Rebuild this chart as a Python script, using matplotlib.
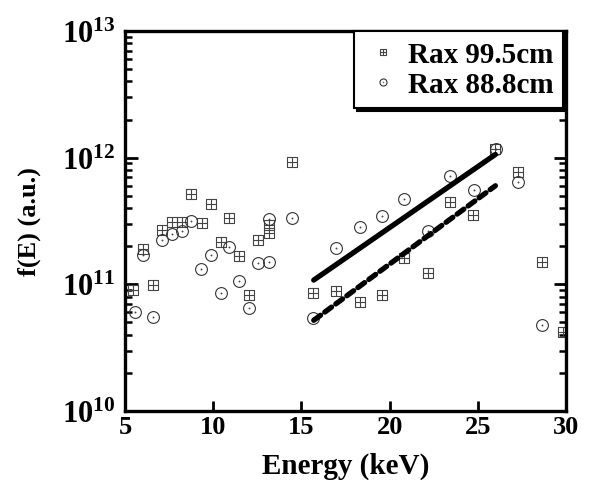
import numpy as np
import matplotlib
matplotlib.use("Agg")
import matplotlib.pyplot as plt
from matplotlib.path import Path
from matplotlib.ticker import FixedLocator, FixedFormatter, LogLocator, NullFormatter

plt.rcParams['font.family'] = ['Liberation Serif', 'DejaVu Serif']
plt.rcParams['font.weight'] = 'bold'
plt.rcParams['mathtext.fontset'] = 'custom'
plt.rcParams['mathtext.rm'] = 'Liberation Serif:bold'
plt.rcParams['mathtext.bf'] = 'Liberation Serif:bold'
plt.rcParams['mathtext.it'] = 'Liberation Serif:bold'

# Rax 99.5cm (squares with cross)
e_995 = [5.45, 6.59, 6.02, 7.10, 7.66, 8.23, 8.74, 9.37, 9.88, 10.44, 10.90, 11.46,
         12.03, 12.54, 13.16, 13.16, 14.47, 15.66, 16.96, 18.32, 19.57, 20.82, 22.18,
         23.42, 24.73, 25.98, 27.28, 28.64, 29.83]
f_995 = [8.96e10, 9.8e10, 1.90e11, 2.68e11, 3.11e11, 3.11e11, 5.18e11, 3.05e11, 4.31e11,
         2.15e11, 3.34e11, 1.67e11, 8.2e10, 2.23e11, 2.94e11, 2.54e11, 9.3e11, 8.5e10,
         8.8e10, 7.3e10, 8.2e10, 1.61e11, 1.22e11, 4.48e11, 3.53e11, 1.18e12, 7.74e11,
         1.50e11, 4.24e10]

# Rax 88.8cm (circles)
e_888 = [5.57, 6.59, 6.02, 7.10, 7.66, 8.23, 8.74, 9.31, 9.88, 10.44, 10.90, 11.46,
         12.03, 12.54, 13.16, 13.16, 14.47, 15.66, 16.96, 18.32, 19.57, 20.82, 22.18,
         23.42, 24.78, 26.03, 27.28, 28.64]
f_888 = [6.0e10, 5.57e10, 1.70e11, 2.23e11, 2.50e11, 2.64e11, 3.16e11, 1.32e11, 1.70e11,
         8.6e10, 1.97e11, 1.06e11, 6.45e10, 1.47e11, 1.50e11, 3.28e11, 3.34e11, 5.47e10,
         1.93e11, 2.83e11, 3.47e11, 4.73e11, 2.64e11, 7.19e11, 5.57e11, 1.16e12, 6.45e11,
         4.73e10]

# exponential fits
fit_e = [15.7, 26.0]
fit_888 = [1.08e11, 1.06e12]
fit_995 = [5.2e10, 6.0e11]

xticks = [5, 10, 15, 20, 25, 30]
yticks = [1e10, 1e11, 1e12, 1e13]
ytick_labels = [r'$\mathbf{10^{10}}$', r'$\mathbf{10^{11}}$', r'$\mathbf{10^{12}}$', r'$\mathbf{10^{13}}$']

# custom markers
sq_verts = [(-1, -1), (1, -1), (1, 1), (-1, 1), (-1, -1),
            (0, -1), (0, 1), (-1, 0), (1, 0)]
sq_codes = [Path.MOVETO, Path.LINETO, Path.LINETO, Path.LINETO, Path.CLOSEPOLY,
            Path.MOVETO, Path.LINETO, Path.MOVETO, Path.LINETO]
sq_marker = Path(sq_verts, sq_codes)
circ_marker = Path.make_compound_path(Path.unit_circle(), Path.circle((0, 0), 0.06))

fig = plt.figure(figsize=(6.0, 4.81), dpi=100)
ax = fig.add_axes([0.2083, 0.1435, 0.735, 0.79])

ax.plot(e_995, f_995, linestyle='none', marker=sq_marker, markersize=7.5,
        markerfacecolor='none', markeredgecolor='#444444', markeredgewidth=0.8,
        label='Rax 99.5cm')
ax.plot(e_888, f_888, linestyle='none', marker=circ_marker, markersize=8.5,
        markerfacecolor='none', markeredgecolor='#333333', markeredgewidth=0.8,
        label='Rax 88.8cm')
ax.plot(fit_e, fit_888, color='black', lw=3.8, solid_capstyle='round')
ax.plot(fit_e, fit_995, color='black', lw=3.8, dashes=(1.6, 1.0), dash_capstyle='round')

ax.set_yscale('log')
ax.set_xlim(5, 30)
ax.set_ylim(1e10, 1e13)

ax.xaxis.set_major_locator(FixedLocator(xticks))
ax.set_xticklabels([str(t) for t in xticks])
ax.yaxis.set_major_locator(FixedLocator(yticks))
ax.yaxis.set_major_formatter(FixedFormatter(ytick_labels))
ax.yaxis.set_minor_locator(LogLocator(base=10, subs=np.arange(2, 10), numticks=20))
ax.yaxis.set_minor_formatter(NullFormatter())

ax.tick_params(axis='x', which='major', direction='in', length=7, width=2,
               labelsize=19, pad=3, top=False)
ax.tick_params(axis='y', which='major', direction='in', length=9, width=2,
               labelsize=22, pad=7, right=True)
ax.tick_params(axis='y', which='minor', direction='in', length=5, width=1.8, right=True)

for s in ax.spines.values():
    s.set_linewidth(2.4)

ax.set_xlabel('Energy (keV)', fontsize=21, fontweight='bold', labelpad=10)
ax.set_ylabel('f(E) (a.u.)', fontsize=19, fontweight='bold', labelpad=15)

leg = ax.legend(loc='upper right', bbox_to_anchor=(0.994, 1.0), borderaxespad=0,
                fancybox=False, shadow={'color': 'black', 'alpha': 1.0},
                edgecolor='black', framealpha=1, markerscale=0.6,
                prop={'family': 'Liberation Serif', 'weight': 'bold', 'size': 21},
                handlelength=1.3, handletextpad=0.2, labelspacing=0.1, borderpad=0.34)
leg.get_frame().set_linewidth(1.5)

fig.savefig('out.png', dpi=100)
